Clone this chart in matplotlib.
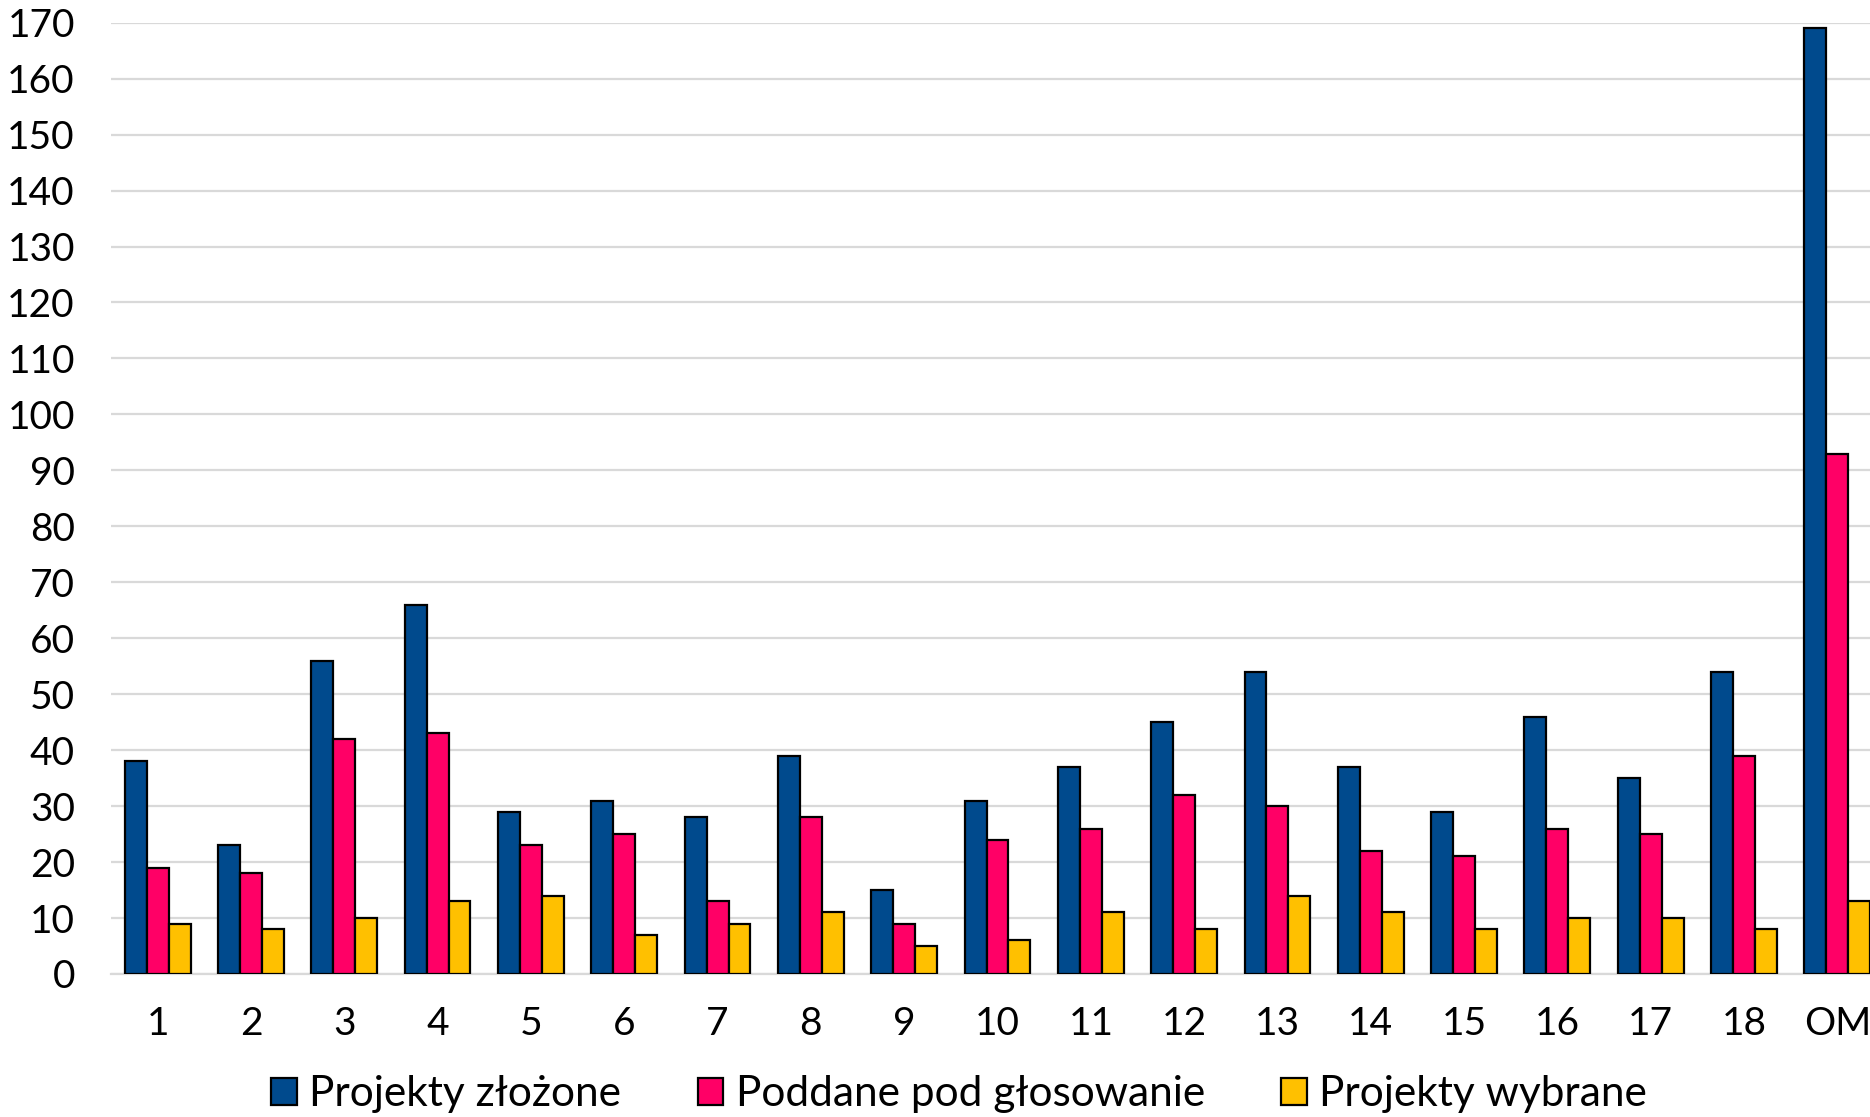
import numpy as np
import matplotlib
matplotlib.use("Agg")
import matplotlib.pyplot as plt

plt.rcParams['font.family'] = ['Lato', 'DejaVu Sans']

districts = ["1", "2", "3", "4", "5", "6", "7", "8", "9", "10",
             "11", "12", "13", "14", "15", "16", "17", "18", "OM"]
zlozone = [38, 23, 56, 66, 29, 31, 28, 39, 15, 31, 37, 45, 54, 37, 29, 46, 35, 54, 169]
poddane = [19, 18, 42, 43, 23, 25, 13, 28, 9, 24, 26, 32, 30, 22, 21, 26, 25, 39, 93]
wybrane = [9, 8, 10, 13, 14, 7, 9, 11, 5, 6, 11, 8, 14, 11, 8, 10, 10, 8, 13]

series = [
    ("Projekty złożone", zlozone, "#004A8D"),
    ("Poddane pod głosowanie", poddane, "#FF0066"),
    ("Projekty wybrane", wybrane, "#FFC000"),
]

fig = plt.figure(figsize=(18.7, 11.17), dpi=100)
ax = fig.add_axes([111 / 1870, 1 - 974 / 1117, 1759 / 1870, (974 - 22.7) / 1117])

x = np.arange(len(districts))
w = 0.235
for i, (name, vals, col) in enumerate(series):
    ax.bar(x + (i - 1) * w, vals, w, color=col, edgecolor="black",
           linewidth=1.6, label=name, zorder=3)

ax.set_ylim(0, 170)
ax.set_yticks(range(0, 171, 10))
ax.set_xlim(-0.5, 18.35)
ax.set_xticks(x)
ax.set_xticklabels(districts)
ax.grid(axis="y", color="#D9D9D9", linewidth=1.6, zorder=0)
for s in ["top", "right", "left"]:
    ax.spines[s].set_visible(False)
ax.spines["bottom"].set_color("#D9D9D9")
ax.spines["bottom"].set_linewidth(1.6)
ax.tick_params(axis="both", length=0, labelsize=28, colors="black")
ax.tick_params(axis="y", pad=26)
ax.tick_params(axis="x", pad=23)

fig.legend(loc="center", bbox_to_anchor=(0.513, 1 - 1094 / 1117), ncol=3,
           frameon=False, fontsize=30.5, handlelength=0.6, handleheight=0.6,
           handletextpad=0.3, columnspacing=1.8)

fig.savefig("out.png", dpi=100)
